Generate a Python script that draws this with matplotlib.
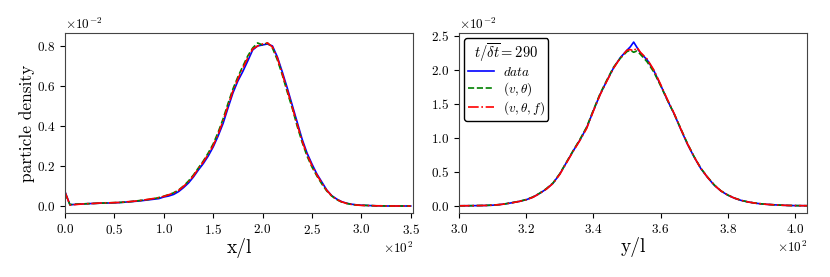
import numpy as np
import matplotlib
matplotlib.use("Agg")
import matplotlib.pyplot as plt

plt.rcParams.update({
    "font.family": "serif",
    "font.serif": ["cmr10"],
    "mathtext.fontset": "cm",
    "axes.formatter.use_mathtext": True,
    "axes.unicode_minus": True,
})

# left panel: density along x (values in units of 1e-2)
x_pos = np.arange(0, 351, 5)
x_data = [0.072, 0.006, 0.008, 0.010, 0.011, 0.012, 0.013, 0.014, 0.015, 0.015,
          0.016, 0.017, 0.019, 0.021, 0.023, 0.025, 0.028, 0.031, 0.034, 0.037,
          0.045, 0.050, 0.058, 0.072, 0.092, 0.115, 0.145, 0.180, 0.212, 0.250,
          0.295, 0.350, 0.412, 0.490, 0.565, 0.625, 0.672, 0.725, 0.780, 0.800,
          0.805, 0.810, 0.800, 0.745, 0.670, 0.590, 0.505, 0.420, 0.335, 0.265,
          0.210, 0.160, 0.120, 0.080, 0.052, 0.035, 0.022, 0.014, 0.009, 0.006,
          0.004, 0.003, 0.002, 0.001, 0.001, 0.000, 0.000, 0.000, 0.000, 0.000,
          0.000]
x_vth = [0.065, 0.007, 0.009, 0.010, 0.011, 0.012, 0.013, 0.014, 0.015, 0.016,
         0.017, 0.018, 0.019, 0.021, 0.024, 0.027, 0.030, 0.033, 0.037, 0.042,
         0.049, 0.057, 0.066, 0.080, 0.100, 0.125, 0.155, 0.190, 0.225, 0.265,
         0.310, 0.368, 0.435, 0.512, 0.585, 0.645, 0.698, 0.750, 0.790, 0.815,
         0.805, 0.815, 0.790, 0.730, 0.655, 0.570, 0.490, 0.400, 0.320, 0.250,
         0.195, 0.150, 0.110, 0.075, 0.050, 0.032, 0.020, 0.013, 0.008, 0.005,
         0.004, 0.003, 0.002, 0.001, 0.001, 0.000, 0.000, 0.000, 0.000, 0.000,
         0.000]
x_vthf = [0.070, 0.005, 0.007, 0.009, 0.011, 0.012, 0.013, 0.015, 0.016, 0.016,
          0.017, 0.018, 0.020, 0.022, 0.024, 0.027, 0.030, 0.034, 0.038, 0.042,
          0.048, 0.056, 0.066, 0.078, 0.098, 0.122, 0.150, 0.187, 0.220, 0.258,
          0.302, 0.358, 0.425, 0.500, 0.575, 0.635, 0.688, 0.740, 0.785, 0.800,
          0.810, 0.815, 0.795, 0.740, 0.660, 0.580, 0.495, 0.410, 0.325, 0.258,
          0.202, 0.155, 0.115, 0.078, 0.051, 0.033, 0.021, 0.013, 0.008, 0.005,
          0.003, 0.002, 0.002, 0.001, 0.001, 0.000, 0.000, 0.000, 0.000, 0.000,
          0.000]

# right panel: density along y (values in units of 1e-2)
y_pos = np.r_[np.arange(300, 351, 2), 351, 352, 353, np.arange(354, 405, 2)]
y_data = [0.003, 0.004, 0.005, 0.006, 0.008, 0.012, 0.020, 0.033, 0.050, 0.068,
          0.092, 0.130, 0.185, 0.250, 0.335, 0.470, 0.640, 0.810, 0.970, 1.150,
          1.400, 1.640, 1.840, 2.030, 2.180, 2.290,
          2.340, 2.410, 2.330,
          2.250, 2.150, 1.990, 1.780, 1.560, 1.360, 1.130, 0.910, 0.720, 0.550,
          0.420, 0.305, 0.220, 0.160, 0.115, 0.082, 0.060, 0.043, 0.031, 0.023,
          0.017, 0.012, 0.008, 0.006, 0.005, 0.004]
y_vth = [0.003, 0.004, 0.005, 0.007, 0.009, 0.013, 0.021, 0.034, 0.051, 0.070,
         0.095, 0.133, 0.188, 0.255, 0.340, 0.475, 0.645, 0.815, 0.980, 1.160,
         1.410, 1.650, 1.850, 2.040, 2.170, 2.270,
         2.290, 2.260, 2.280,
         2.230, 2.120, 1.970, 1.770, 1.560, 1.360, 1.140, 0.920, 0.725, 0.555,
         0.425, 0.310, 0.222, 0.162, 0.117, 0.083, 0.061, 0.044, 0.032, 0.023,
         0.017, 0.012, 0.008, 0.006, 0.005, 0.004]
y_vthf = [0.003, 0.004, 0.005, 0.006, 0.008, 0.012, 0.020, 0.032, 0.049, 0.068,
          0.091, 0.128, 0.183, 0.248, 0.332, 0.465, 0.635, 0.805, 0.965, 1.140,
          1.395, 1.635, 1.835, 2.025, 2.175, 2.290,
          2.300, 2.280, 2.330,
          2.260, 2.160, 2.000, 1.790, 1.570, 1.365, 1.135, 0.915, 0.722, 0.552,
          0.421, 0.306, 0.221, 0.160, 0.116, 0.082, 0.060, 0.043, 0.031, 0.023,
          0.017, 0.012, 0.008, 0.006, 0.005, 0.004]

labels = [r"$data$", r"$(v,\theta)$", r"$(v,\theta,f)$"]
styles = [("b", "-"), ("g", "--"), ("r", "-.")]

fig = plt.figure(figsize=(8.3, 2.77), dpi=100)
ax1 = fig.add_axes([0.0783, 0.231, 0.4193, 0.650])
ax2 = fig.add_axes([0.553, 0.231, 0.4193, 0.650])

for series, (c, ls), lab in zip([x_data, x_vth, x_vthf], styles, labels):
    ax1.plot(x_pos, np.array(series) * 1e-2, color=c, ls=ls, lw=1.2, label=lab)
for series, (c, ls), lab in zip([y_data, y_vth, y_vthf], styles, labels):
    ax2.plot(y_pos, np.array(series) * 1e-2, color=c, ls=ls, lw=1.2, label=lab)

ax1.set_xlim(0, 352.3)
ax1.set_ylim(-0.035e-2, 0.865e-2)
ax1.set_xticks(np.arange(0, 351, 50))
ax1.set_yticks(np.arange(0, 0.0081, 0.002))
ax2.set_xlim(300, 403.6)
ax2.set_ylim(-0.103e-2, 2.544e-2)
ax2.set_xticks(np.arange(300, 401, 20))
ax2.set_yticks(np.arange(0, 0.0251, 0.005))

for ax in (ax1, ax2):
    ax.ticklabel_format(axis="x", style="sci", scilimits=(2, 2))
    ax.ticklabel_format(axis="y", style="sci", scilimits=(-2, -2))
    ax.tick_params(labelsize=9.5)
    ax.xaxis.get_offset_text().set_fontsize(9.5)
    ax.yaxis.get_offset_text().set_fontsize(9.5)
    for s in ax.spines.values():
        s.set_color("#444444")

ax1.set_xlabel("x/l", fontsize=14, labelpad=1)
ax1.set_ylabel("particle density", fontsize=12.5, labelpad=1)
ax2.set_xlabel("y/l", fontsize=14, labelpad=1)

leg = ax2.legend(loc="upper left", title=r"$t/\overline{\delta t}=290$",
                 fontsize=9.5, title_fontsize=10.5, fancybox=True, framealpha=1,
                 edgecolor="black", handlelength=2.0, labelspacing=0.12,
                 borderpad=0.25, handletextpad=0.7, borderaxespad=0.4)

fig.savefig("out.png", dpi=100)
